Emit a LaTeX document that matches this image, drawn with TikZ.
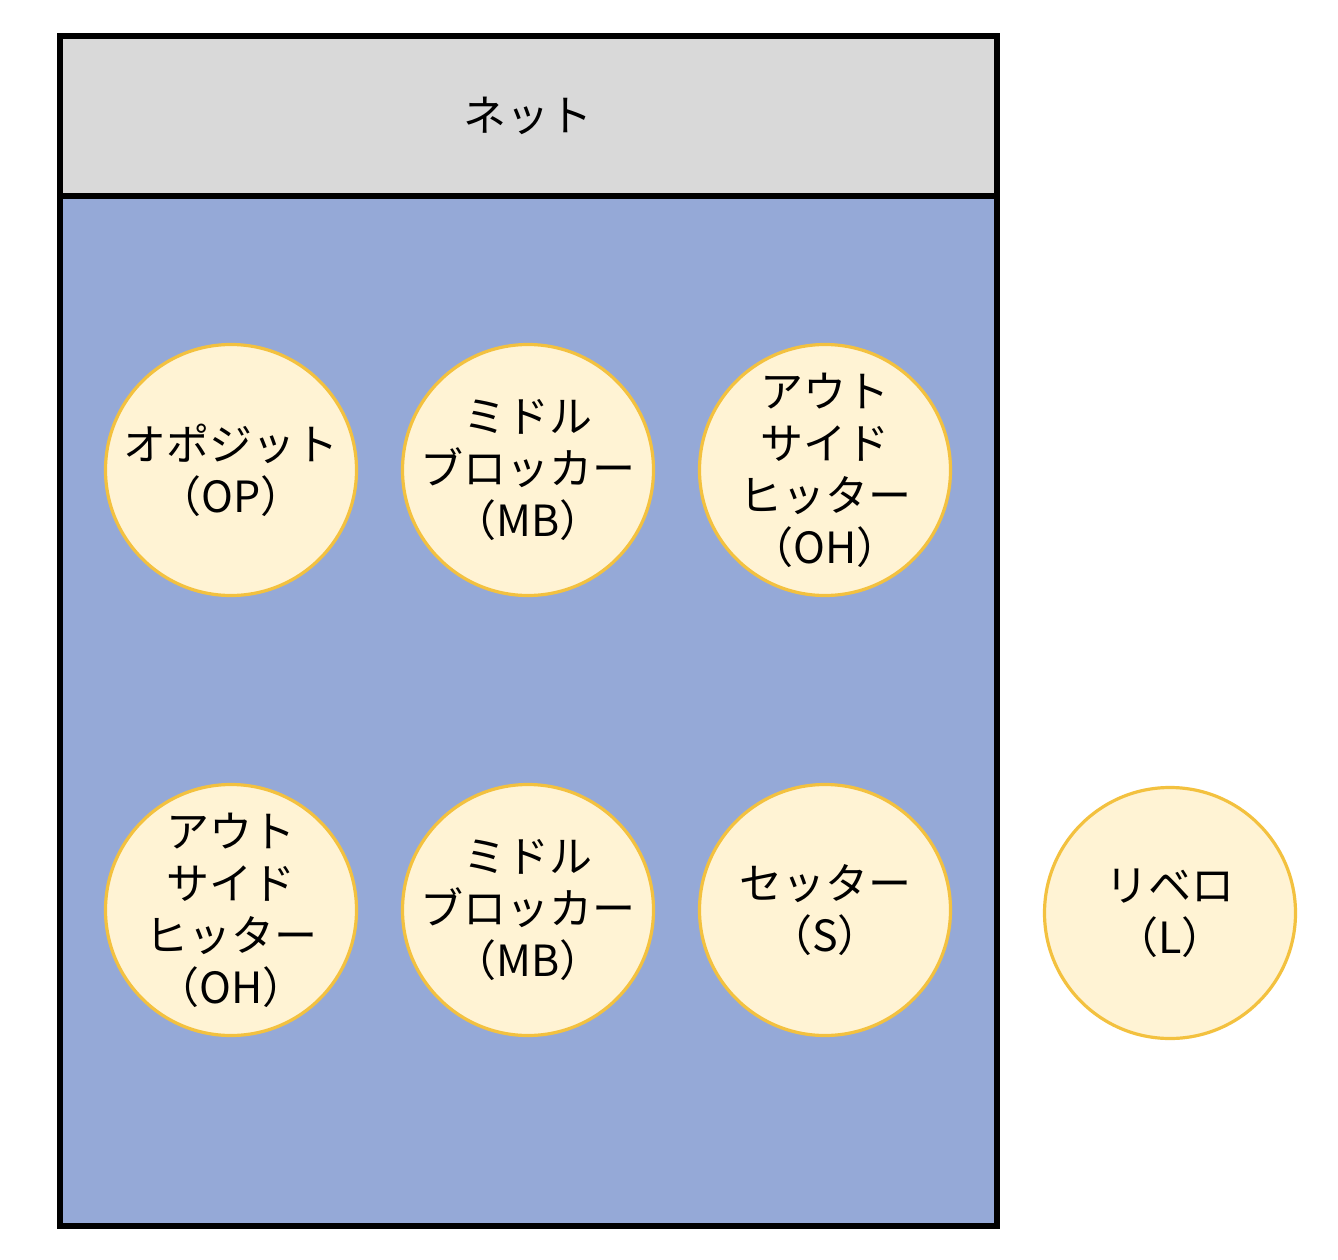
\documentclass[tikz,border=0pt]{standalone}
\usepackage{fontspec}
\setmainfont{Noto Sans CJK JP}
\definecolor{netgray}{HTML}{D9D9D9}
\definecolor{courtblue}{HTML}{95A9D7}
\definecolor{playerfill}{HTML}{FFF3D4}
\definecolor{playerline}{HTML}{F3C13F}
\tikzset{
  player/.style={circle, draw=playerline, fill=playerfill, line width=3.2pt,
    minimum size=251pt, inner sep=-40pt, align=center,
    font=\fontsize{43}{52}\selectfont},
  netlabel/.style={font=\fontsize{43}{52}\selectfont}
}
\begin{document}
\begin{tikzpicture}[x=1pt,y=-1pt]
\useasboundingbox (0,0) rectangle (1338,1260);
% court and net
\fill[courtblue] (60,196) rectangle (997,1226);
\fill[netgray] (60,36) rectangle (997,196);
\draw[line width=6pt] (60,196) -- (997,196);
\draw[line width=6pt] (60,36) rectangle (997,1226);
\node[netlabel] (net) at (528,116) {ネット};
% players
\node[player] (op) at (231,470) {オポジット\\（OP）};
\node[player] (mb1) at (528,470) {ミドル\\ブロッカー\\（MB）};
\node[player] (oh1) at (825,470) {アウト\\サイド\\ヒッター\\（OH）};
\node[player] (oh2) at (231,910) {アウト\\サイド\\ヒッター\\（OH）};
\node[player] (mb2) at (528,910) {ミドル\\ブロッカー\\（MB）};
\node[player] (s) at (825,910) {セッター\\（S）};
\node[player] (l) at (1170,913) {リベロ\\（L）};
\end{tikzpicture}
\end{document}
